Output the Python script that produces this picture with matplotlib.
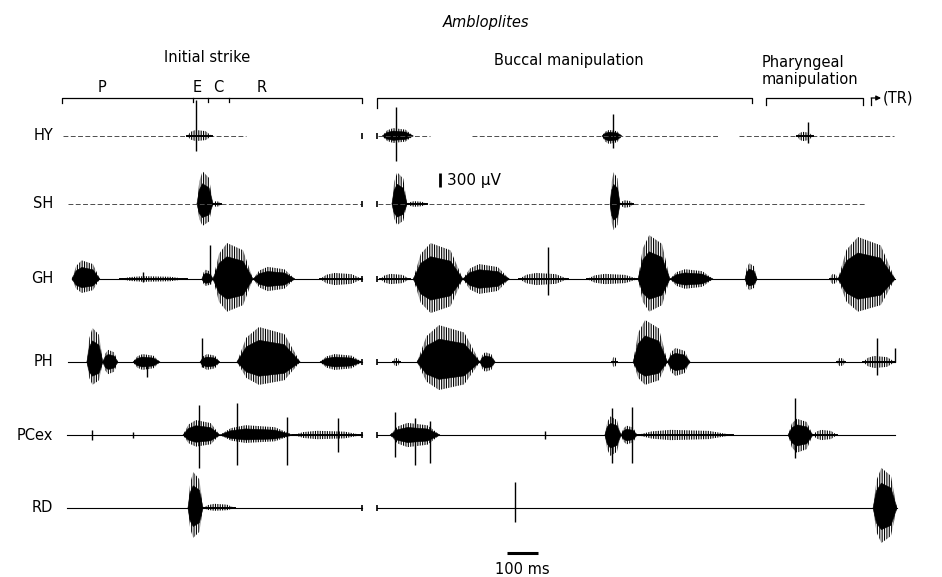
import matplotlib
matplotlib.use("Agg")
import matplotlib.pyplot as plt
from matplotlib.patches import Polygon
from matplotlib.transforms import blended_transform_factory

W, H = 942, 577
MS_PER_PX = 100 / 31      # 100 ms scale bar is 31 px wide
UV_PER_PX = 300 / 14      # 300 uV scale bar is 14 px tall
T0_PX = 63                # pixel column of t = 0

plt.rcParams["hatch.linewidth"] = 0.8

channels = ["HY", "SH", "GH", "PH", "PCex", "RD"]

# ---------- baseline segments (ms) ----------
hy_segments = [(0, 590), (1015, 1185), (1320, 2115), (2180, 2680)]
sh_segments = [(16, 965), (1016, 2587)]
gh_segments = [(29, 965), (1013, 2684)]
ph_segments = [(16, 965), (1013, 2684)]
pc_segments = [(13, 965), (1013, 2684)]
rd_segments = [(13, 965), (1013, 2690)]

# ---------- bursts: (start ms, end ms, up uV, down uV) ----------
hy_bursts = [(400, 480, 130, 110), (1030, 1130, 170, 150),
             (1739, 1803, 130, 170), (2368, 2419, 90, 110)]
sh_bursts = [(432, 484, 700, 470), (484, 510, 60, 60),
             (1061, 1110, 680, 450), (1110, 1174, 60, 60),
             (1765, 1797, 680, 560), (1797, 1840, 80, 80)]
gh_bursts = [(29, 119, 400, 300), (184, 400, 60, 60), (448, 484, 200, 150),
             (484, 613, 770, 700), (613, 748, 260, 260), (829, 965, 130, 130),
             (1023, 1119, 110, 110), (1130, 1290, 770, 730), (1290, 1440, 320, 320),
             (1471, 1629, 130, 130), (1690, 1855, 110, 110), (1855, 1958, 940, 700),
             (1958, 2097, 210, 210), (2200, 2239, 340, 240), (2474, 2500, 110, 110),
             (2500, 2684, 900, 700)]
ph_bursts = [(77, 129, 730, 490), (129, 177, 260, 260), (226, 313, 170, 170),
             (442, 506, 170, 170), (561, 765, 750, 490), (829, 965, 170, 170),
             (1065, 1087, 90, 90), (1142, 1345, 790, 600), (1345, 1394, 210, 210),
             (1771, 1787, 110, 110), (1839, 1950, 900, 490), (1950, 2023, 300, 300),
             (2497, 2523, 90, 90), (2581, 2684, 130, 130)]
pc_bursts = [(387, 506, 320, 250), (506, 742, 210, 170), (742, 965, 90, 90),
             (1055, 1216, 260, 260), (1748, 1800, 400, 450), (1800, 1852, 200, 200),
             (1852, 2161, 110, 110), (2339, 2419, 350, 380), (2419, 2497, 110, 110)]
rd_bursts = [(403, 452, 770, 640), (452, 555, 90, 60), (2613, 2690, 860, 750)]

# ---------- single spikes: (time ms, up uV, down uV) ----------
hy_spikes = [(429, 770, 320), (1074, 620, 535), (1774, 470, 257), (2403, 300, 150)]
sh_spikes = []
gh_spikes = [(258, 150, 60), (474, 730, 100), (1565, 690, 340)]
ph_spikes = [(271, 60, 320), (448, 520, 100), (2626, 510, 280), (2684, 300, 0)]
pc_spikes = [(94, 110, 110), (226, 60, 60), (439, 640, 700), (561, 680, 640),
             (723, 390, 640), (887, 360, 360), (1071, 490, 470), (1136, 370, 640),
             (1184, 300, 600), (1555, 90, 90), (1770, 580, 600), (1836, 600, 600),
             (2360, 790, 490)]
rd_spikes = [(1458, 560, 300)]

# phase markers (ms)
strike_span = (-3, 965)
strike_marks = [419, 468, 535]
buccal_span = (1013, 2223)
pharyngeal_span = (2268, 2581)
transport_start = 2607
segment_break = (965, 1013)

segments = [hy_segments, sh_segments, gh_segments, ph_segments, pc_segments, rd_segments]
bursts = [hy_bursts, sh_bursts, gh_bursts, ph_bursts, pc_bursts, rd_bursts]
spikes = [hy_spikes, sh_spikes, gh_spikes, ph_spikes, pc_spikes, rd_spikes]

# layout (pixel rows of each trace baseline)
row_px = [136, 204, 279, 362, 435, 508]

fig = plt.figure(figsize=(W / 100, H / 100), dpi=100)
ax = fig.add_axes([0, 0, 1, 1])
ax.set_xlim(-T0_PX * MS_PER_PX, (W - T0_PX) * MS_PER_PX)
ax.set_ylim(H * UV_PER_PX, 0)
ax.axis("off")

# x in ms, y in figure fraction
tr = blended_transform_factory(ax.transData, fig.transFigure)


def fy(px):
    return 1 - px / H


def envelope(a, b, y0, up, dn, k=1.0):
    d = b - a
    xs = [a, a + 0.15 * d, a + 0.35 * d, b - 0.25 * d, b,
          b - 0.25 * d, a + 0.35 * d, a + 0.15 * d]
    ys = [y0, y0 - 0.7 * k * up, y0 - k * up, y0 - 0.8 * k * up, y0,
          y0 + 0.8 * k * dn, y0 + k * dn, y0 + 0.7 * k * dn]
    return list(zip(xs, ys))


for i, name in enumerate(channels):
    y0 = row_px[i] * UV_PER_PX
    dotted = name in ("HY", "SH")
    for a, b in segments[i]:
        if dotted:
            ax.plot([a, b], [y0, y0], color="0.3", lw=0.7, ls=(0, (5, 2.5)))
        else:
            ax.plot([a, b], [y0, y0], color="black", lw=0.8)
    for a, b, up, dn in bursts[i]:
        # outer envelope as vertical strokes, dense core solid
        ax.add_patch(Polygon(envelope(a, b, y0, up, dn), closed=True,
                             fc="none", ec="black", lw=0, hatch="|||||||"))
        if max(up, dn) > 150:
            ax.add_patch(Polygon(envelope(a, b, y0, up, dn, 0.62), closed=True,
                                 fc="black", ec="black", lw=0.4))
        else:
            ax.plot([a, b], [y0, y0], color="black", lw=1.4)
    for t, up, dn in spikes[i]:
        ax.vlines(t, y0 - up, y0 + dn, color="black", lw=1.0)
    for t in segment_break:
        ax.vlines(t, y0 - 70, y0 + 70, color="black", lw=1.2)
    fig.text(53 / W, fy(row_px[i]), name, ha="right", va="center",
             fontsize=10.5)

# scale bars
ax.vlines(1216, 173 * UV_PER_PX, 173 * UV_PER_PX + 300, color="black", lw=2)
ax.text(1240, 180 * UV_PER_PX, "300 µV", ha="left", va="center", fontsize=11)
ax.hlines(553 * UV_PER_PX, 1432, 1532, color="black", lw=2.2)
ax.text(1482, 570 * UV_PER_PX, "100 ms", ha="center", va="center", fontsize=10.5)

# phase brackets
by = fy(98)
lk = dict(color="black", lw=0.9, transform=tr)
ax.plot([strike_span[0], strike_span[0], strike_span[1], strike_span[1]],
        [fy(103), by, by, fy(103)], **lk)
for t in strike_marks:
    ax.plot([t, t], [by, fy(102)], **lk)
ax.plot([buccal_span[0], buccal_span[0], buccal_span[1], buccal_span[1]],
        [fy(108), by, by, fy(103)], **lk)
ax.plot([pharyngeal_span[0], pharyngeal_span[0], pharyngeal_span[1], pharyngeal_span[1]],
        [fy(105), by, by, fy(105)], **lk)
ax.plot([transport_start, transport_start], [fy(105), by], **lk)
ax.annotate("", xy=(transport_start + 32, by), xytext=(transport_start, by),
            xycoords=tr, textcoords=tr,
            arrowprops=dict(arrowstyle="-|>", color="black", lw=0.9,
                            mutation_scale=7, shrinkA=0, shrinkB=0))
ax.text(transport_start + 36, by, "(TR)", transform=tr, ha="left", va="center",
        fontsize=10.5)

# headings
fig.text(486 / W, fy(22), "Ambloplites", ha="center", va="center",
         fontsize=10.5, style="italic")
fig.text(207 / W, fy(58), "Initial strike", ha="center", va="center",
         fontsize=10.5)
fig.text(569 / W, fy(61), "Buccal manipulation", ha="center", va="center",
         fontsize=10.5)
fig.text(762 / W, fy(62), "Pharyngeal", ha="left", va="center", fontsize=10.5)
fig.text(762 / W, fy(80), "manipulation", ha="left", va="center", fontsize=10.5)
for lab, t in zip(["P", "E", "C", "R"], [126, 432, 500, 642]):
    ax.text(t, fy(87), lab, transform=tr, ha="center", va="center", fontsize=10.5)

fig.savefig("out.png", dpi=100)
